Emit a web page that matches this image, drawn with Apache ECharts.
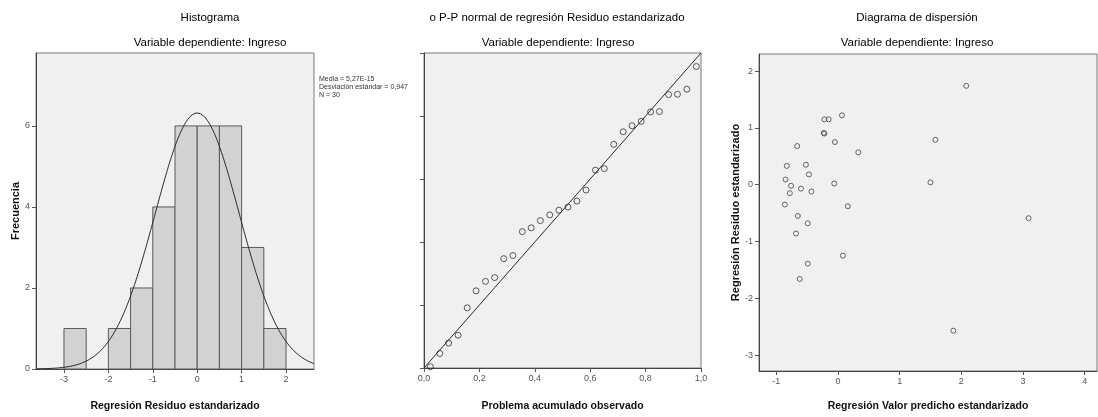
<!DOCTYPE html>
<html>
<head>
<meta charset="utf-8">
<script src="https://cdn.jsdelivr.net/npm/echarts@6/dist/echarts.min.js"></script>
<style>
  html, body { margin: 0; padding: 0; background: #fff; }
  #main { width: 1098px; height: 417px; }
</style>
</head>
<body>
<div id="main"></div>
<script>
// histograma de residuos
var binStarts = [-3, -2, -1.5, -1, -0.5, 0, 0.5, 1, 1.5];
var binCounts = [1, 1, 2, 4, 6, 6, 6, 3, 1];
var binWidth = 0.5;
var histStats = [5.27e-15, 0.947, 30]; // media, desviacion, N
var histXTicks = [-3, -2, -1, 0, 1, 2];
var histYTicks = [0, 2, 4, 6];

// grafico P-P
var ppObserved = [0.023, 0.057, 0.089, 0.123, 0.156, 0.188, 0.222, 0.255, 0.288, 0.321,
    0.355, 0.387, 0.420, 0.454, 0.487, 0.520, 0.552, 0.585, 0.619, 0.651,
    0.685, 0.719, 0.751, 0.784, 0.818, 0.850, 0.883, 0.915, 0.949, 0.983];
var ppExpected = [0.004, 0.046, 0.079, 0.104, 0.191, 0.245, 0.275, 0.287, 0.347, 0.357,
    0.433, 0.445, 0.468, 0.486, 0.501, 0.511, 0.530, 0.565, 0.628, 0.633,
    0.710, 0.750, 0.769, 0.783, 0.813, 0.814, 0.868, 0.869, 0.885, 0.957];

// diagrama de dispersion
var predicho = [2.08, 0.065, -0.22, -0.15, -0.23, -0.22, -0.05, 1.58, -0.66, 0.33,
    -0.83, -0.52, -0.47, -0.85, -0.76, -0.60, -0.78, -0.43, -0.06, 1.50,
    -0.86, 0.16, -0.65, -0.49, 3.09, -0.68, 0.08, -0.49, -0.62, 1.87];
var residuo = [1.74, 1.22, 1.15, 1.15, 0.91, 0.90, 0.75, 0.79, 0.68, 0.57,
    0.33, 0.35, 0.18, 0.09, -0.02, -0.07, -0.15, -0.12, 0.02, 0.04,
    -0.35, -0.38, -0.55, -0.68, -0.59, -0.86, -1.25, -1.39, -1.66, -2.57];
var scatXTicks = [-1, 0, 1, 2, 3, 4];
var scatYTicks = [-3, -2, -1, 0, 1, 2];

var FONT = "'Liberation Sans', Arial, sans-serif";

// curva normal ajustada (media, desviacion y N del histograma)
var curve = [];
for (var x = -3.63; x <= 2.64; x += 0.02) {
    var z = (x - histStats[0]) / histStats[1];
    curve.push([x, histStats[2] * binWidth / (histStats[1] * Math.sqrt(2 * Math.PI)) * Math.exp(-0.5 * z * z)]);
}

var gridBase = {
    show: true,
    backgroundColor: '#f0f0f0',
    borderColor: '#7a7a7a',
    borderWidth: 1
};

function valueAxis(gi, min, max, ticks, extra) {
    var ax = {
        type: 'value',
        gridIndex: gi,
        min: min,
        max: max,
        splitLine: { show: false },
        axisLine: { show: true, onZero: false, lineStyle: { color: '#444', width: 1 } },
        axisTick: { show: true, length: 4, lineStyle: { color: '#555' } },
        axisLabel: { color: '#555', fontSize: 9, fontFamily: FONT, margin: 6 },
        nameTextStyle: { color: '#111', fontWeight: 'bold', fontFamily: FONT, fontSize: 10.5 },
        nameLocation: 'middle'
    };
    if (ticks) {
        ax.axisTick.customValues = ticks;
        ax.axisLabel.customValues = ticks;
    }
    for (var k in extra) ax[k] = extra[k];
    return ax;
}

function commaFmt(v) {
    return v.toFixed(1).replace('.', ',');
}

function title(text, x, y) {
    return { type: 'text', x: x, y: y, style: { text: text, font: '11.5px ' + FONT, fill: '#000', align: 'center', verticalAlign: 'middle' } };
}

function note(text, y) {
    return { type: 'text', x: 319, y: y, style: { text: text, font: '7px ' + FONT, fill: '#333', verticalAlign: 'middle' } };
}

var myChart = echarts.init(document.getElementById('main'));
myChart.setOption({
    animation: false,
    backgroundColor: '#fff',
    grid: [
        Object.assign({ left: 36, top: 53, width: 278, height: 321 }, gridBase),
        Object.assign({ left: 424, top: 53, width: 277, height: 321 }, gridBase),
        Object.assign({ left: 759, top: 54, width: 338, height: 325 }, gridBase)
    ],
    xAxis: [
        valueAxis(0, -3.63, 2.63, histXTicks, { name: 'Regresión Residuo estandarizado', nameGap: 32 }),
        valueAxis(1, 0, 1, null, {
            interval: 0.2, name: 'Problema acumulado observado', nameGap: 33,
            axisLabel: { color: '#555', fontSize: 9, fontFamily: FONT, margin: 6, formatter: commaFmt }
        }),
        valueAxis(2, -1.28, 4.2, scatXTicks, { name: 'Regresión Valor predicho estandarizado', nameGap: 30 })
    ],
    yAxis: [
        valueAxis(0, 0, 7.8, histYTicks, {
            name: 'Frecuencia', nameGap: 15,
            nameTextStyle: { color: '#111', fontWeight: 'bold', fontFamily: FONT, fontSize: 11 }
        }),
        valueAxis(1, 0, 1, null, { interval: 0.2, axisLabel: { show: false } }),
        valueAxis(2, -3.28, 2.3, scatYTicks, {
            name: 'Regresión Residuo estandarizado', nameGap: 14,
            nameTextStyle: { color: '#111', fontWeight: 'bold', fontFamily: FONT, fontSize: 11 }
        })
    ],
    graphic: [
        title('Histograma', 210, 18),
        title('Variable dependiente: Ingreso', 210, 43),
        title('o P-P normal de regresión Residuo estandarizado', 557, 18),
        title('Variable dependiente: Ingreso', 558, 43),
        title('Diagrama de dispersión', 917, 18),
        title('Variable dependiente: Ingreso', 917, 43),
        note('Media = 5,27E-15', 79),
        note('Desviación estándar = 0,947', 87),
        note('N = 30', 95)
    ],
    series: [{
        type: 'custom',
        xAxisIndex: 0,
        yAxisIndex: 0,
        data: binStarts.map(function(s, i) { return [s, binCounts[i]]; }),
        renderItem: function(params, api) {
            var x0 = api.value(0);
            var p0 = api.coord([x0, api.value(1)]);
            var p1 = api.coord([x0 + binWidth, 0]);
            return {
                type: 'rect',
                shape: { x: p0[0], y: p0[1], width: p1[0] - p0[0], height: p1[1] - p0[1] },
                style: { fill: '#d2d2d2', stroke: '#5a5a5a', lineWidth: 1 }
            };
        },
        z: 2
    }, {
        type: 'line',
        xAxisIndex: 0,
        yAxisIndex: 0,
        data: curve,
        showSymbol: false,
        lineStyle: { color: '#2a2a2a', width: 1 },
        z: 3
    }, {
        type: 'line',
        xAxisIndex: 1,
        yAxisIndex: 1,
        data: [[0, 0], [1, 1]],
        showSymbol: false,
        lineStyle: { color: '#2a2a2a', width: 1 }
    }, {
        type: 'scatter',
        xAxisIndex: 1,
        yAxisIndex: 1,
        data: ppObserved.map(function(v, i) { return [v, ppExpected[i]]; }),
        symbol: 'circle',
        symbolSize: 6,
        itemStyle: { color: 'rgba(0,0,0,0)', borderColor: '#333', borderWidth: 1 }
    }, {
        type: 'scatter',
        xAxisIndex: 2,
        yAxisIndex: 2,
        data: predicho.map(function(v, i) { return [v, residuo[i]]; }),
        symbol: 'circle',
        symbolSize: 5,
        itemStyle: { color: 'rgba(0,0,0,0)', borderColor: '#444', borderWidth: 1 }
    }]
});
</script>
</body>
</html>
